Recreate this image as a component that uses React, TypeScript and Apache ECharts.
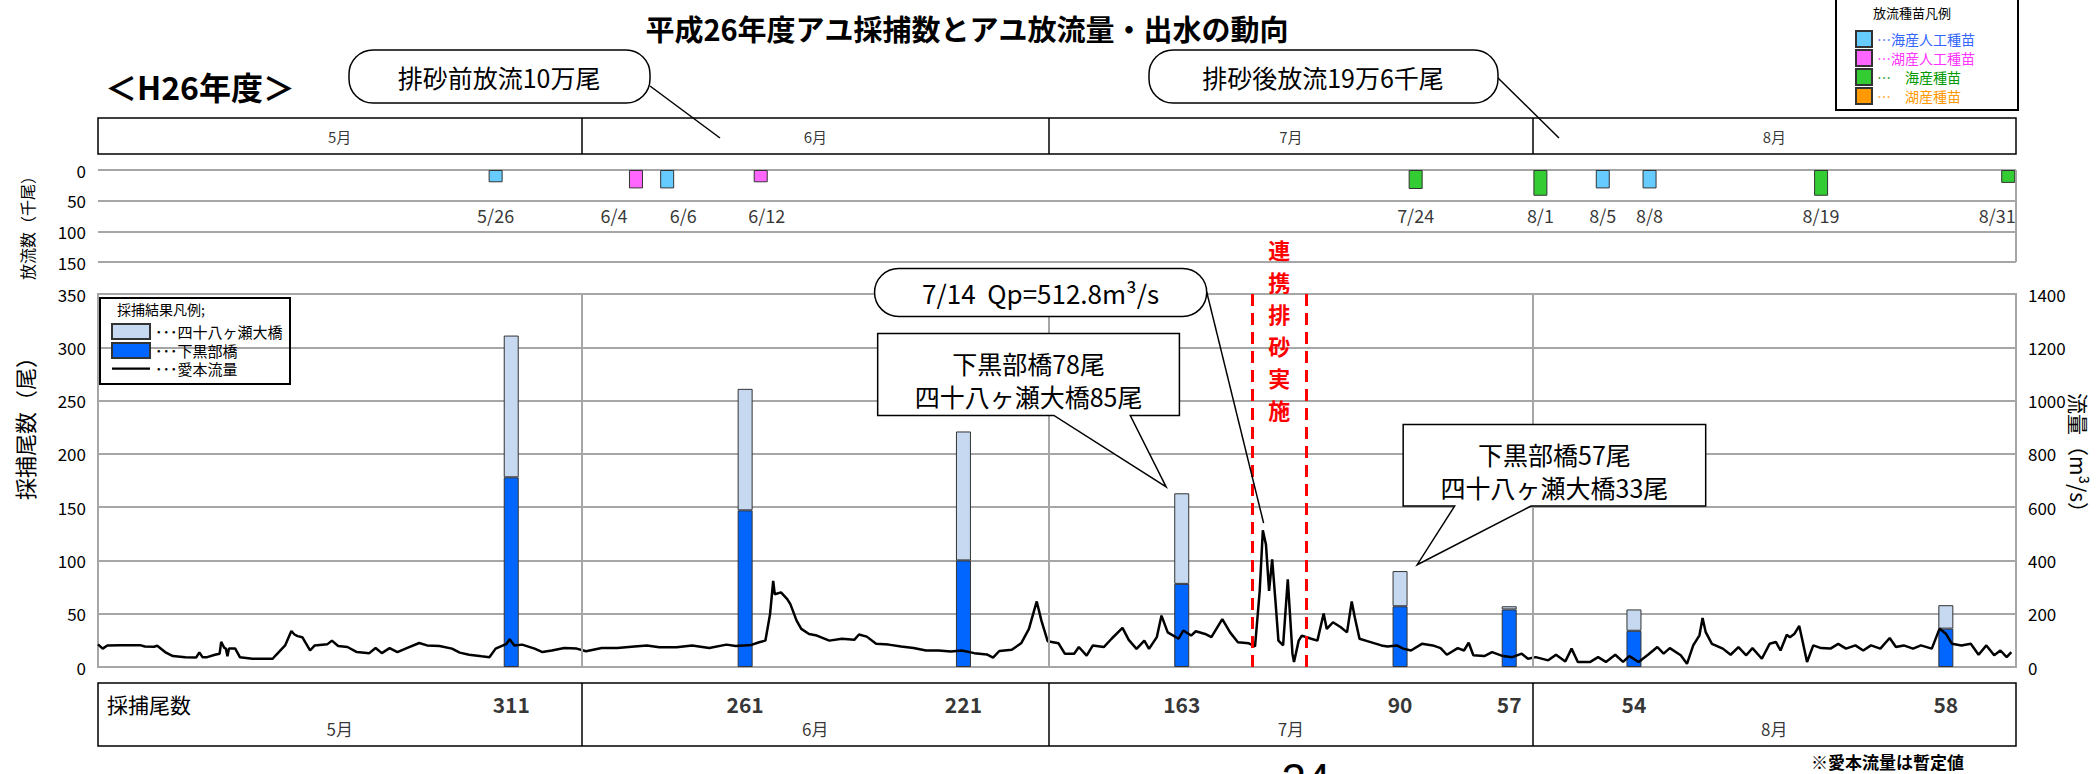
import React, { useEffect, useRef } from "react";
import * as echarts from "echarts";

// ---------------- data ----------------
const monthNames = ["5月", "6月", "7月", "8月"];
const monthNumbers = [5, 6, 7, 8];
const monthFirstDay: Record<string, number> = { "5": 0, "6": 31, "7": 61, "8": 92 };
const monthBounds = [0, 31, 61, 92, 123];

// catch survey (fish)
const catchDates = ["5/27", "6/11", "6/25", "7/9", "7/23", "7/30", "8/7", "8/27"];
const shimokurobeCatch = [178, 147, 100, 78, 57, 54, 34, 36];
const yasoseCatch = [133, 114, 121, 85, 33, 3, 20, 22];

// releases (thousand fish)
const releaseKinds = ["海産人工種苗", "湖産人工種苗", "海産種苗", "湖産種苗"];
const releaseDates = ["5/26", "6/4", "6/6", "6/12", "7/24", "8/1", "8/5", "8/8", "8/19", "8/31"];
const releaseKindOf = ["海産人工種苗", "湖産人工種苗", "海産人工種苗", "湖産人工種苗", "海産種苗", "海産種苗", "海産人工種苗", "海産人工種苗", "海産種苗", "海産種苗"];
const releaseThousands = [20, 30, 30, 20, 31, 42, 30, 30, 42, 21];

// Aimoto discharge (m3/s) as [day offset from May 1, value]
const flowMay = [
  [0, 85], [0.3, 69], [0.6, 81], [1.4, 82], [2.7, 82], [3.0, 77], [3.6, 76], [3.8, 80], [4.3, 56], [4.8, 41],
  [5.6, 37], [6.3, 36], [6.5, 55], [6.7, 37], [7.0, 37], [7.5, 46], [7.8, 50], [7.9, 94], [8.1, 72], [8.2, 69],
  [8.3, 40], [8.4, 69], [8.8, 69], [9.1, 37], [9.9, 31], [11.2, 31], [11.4, 44], [12.0, 81], [12.4, 135], [12.6, 122],
  [12.8, 116], [13.1, 112], [13.6, 62], [13.9, 81], [14.7, 85], [15.0, 99], [15.4, 79], [16.0, 75], [16.6, 56], [17.4, 52],
  [17.8, 71], [18.2, 52], [18.7, 71], [19.2, 56], [19.8, 71], [20.6, 90], [21.1, 81], [21.9, 79], [22.7, 69], [23.2, 54],
  [23.8, 46], [24.6, 40], [25.1, 37], [25.5, 69], [26.2, 87], [26.4, 104], [26.7, 81], [27.2, 84], [28.0, 69], [28.5, 56],
  [29.1, 62], [29.9, 71], [30.7, 69],
];
const flowJune = [
  [31.3, 59], [32.3, 71], [33.3, 71], [34.4, 77], [35.2, 81], [36.0, 74], [37.1, 74], [38.1, 81], [39.2, 71], [40.3, 84],
  [40.9, 79], [41.9, 83], [42.4, 93], [42.8, 99], [43.1, 199], [43.3, 323], [43.4, 273], [43.8, 280], [44.2, 255], [44.4, 236],
  [44.8, 174], [45.1, 143], [45.6, 124], [46.1, 118], [46.9, 99], [47.7, 106], [48.5, 102], [48.8, 122], [49.3, 114], [49.9, 87],
  [50.7, 84], [51.5, 77], [52.3, 71], [53.1, 62], [53.9, 62], [54.7, 58], [55.4, 62], [56.2, 52], [57.0, 47], [57.4, 35],
  [57.8, 60], [58.6, 65], [59.2, 89], [59.7, 143], [60.2, 246], [60.5, 174], [60.9, 97],
];
const flowJuly = [
  [61.6, 89], [62.0, 50], [62.6, 50], [62.9, 75], [63.4, 43], [63.8, 81], [64.5, 75], [65.0, 106], [65.7, 147], [66.1, 102],
  [66.6, 68], [67.1, 99], [67.4, 68], [67.9, 112], [68.2, 193], [68.6, 130], [69.3, 106], [69.6, 137], [70.1, 118], [70.4, 134],
  [71.0, 124], [71.4, 112], [72.1, 180], [72.6, 130], [73.1, 93], [73.8, 89], [74.2, 77], [74.5, 286], [74.7, 512.8], [74.9, 460],
  [75.1, 286], [75.3, 404], [75.5, 255], [75.7, 99], [76.0, 81], [76.3, 329], [76.6, 50], [76.7, 19], [77.0, 99], [77.2, 118],
  [77.8, 106], [78.2, 99], [78.6, 201], [78.8, 143], [79.2, 168], [79.7, 149], [80.1, 130], [80.4, 246], [80.6, 186], [80.9, 106],
  [81.4, 97], [82.3, 81], [82.7, 77], [83.3, 81], [83.7, 69], [84.2, 62], [84.9, 87], [85.6, 81], [86.1, 71], [86.5, 46],
  [87.2, 71], [87.6, 62], [87.9, 91], [88.2, 44], [88.9, 41], [89.4, 56], [90.1, 41], [90.7, 37], [91.3, 50], [91.7, 31],
];
const flowAugust = [
  [92.2, 37], [93.0, 25], [93.5, 46], [94.1, 21], [94.5, 69], [94.9, 19], [95.7, 19], [96.2, 37], [96.7, 19], [97.3, 46],
  [97.8, 19], [98.2, 41], [98.8, 19], [99.4, 46], [100.0, 75], [100.4, 50], [100.8, 71], [101.5, 44], [101.9, 12], [102.3, 81],
  [102.7, 119], [102.9, 184], [103.1, 131], [103.5, 87], [104.2, 69], [104.7, 46], [105.2, 75], [105.7, 44], [106.1, 71], [106.7, 31],
  [107.2, 87], [107.6, 94], [107.9, 62], [108.3, 121], [108.5, 112], [108.8, 125], [109.1, 154], [109.3, 100], [109.6, 19], [110.0, 81],
  [110.5, 71], [111.1, 69], [111.6, 87], [112.1, 69], [112.7, 81], [113.2, 62], [113.7, 81], [114.3, 69], [114.9, 109], [115.3, 75],
  [115.8, 81], [116.4, 69], [116.9, 81], [117.6, 69], [118.1, 144], [118.5, 125], [118.9, 87], [119.5, 81], [120.1, 87], [120.6, 46],
  [121.1, 81], [121.6, 44], [122.0, 62], [122.4, 37], [122.7, 56],
];

const sandFlushDays = [74, 77.5];
const peakText = "7/14  Qp=512.8m³/s";

// ---------------- styles ----------------
const NUM_FONT = "'Liberation Sans Narrow', 'Noto Sans CJK JP', sans-serif";
const JP_FONT = "'Noto Sans CJK JP', 'Noto Sans', sans-serif";
const releaseFill = ["#66CCFF", "#FF66FF", "#33CC33", "#FF9900"];
const releaseText = ["#3366FF", "#FF33FF", "#009900", "#FF9900"];
const releaseLabelNudge: Record<string, number> = { "6/4": -22, "6/6": 16, "6/12": 6, "8/31": -11 };
const GRAY = "#A6A6A6";
// legend icon: a thin horizontal line inside a 38x15 box
const LINE_ICON = "path://M0,0L0.01,0L0.01,0.01Z M0,15L0.01,15L0.01,14.99Z M38,0L37.99,0L37.99,0.01Z M0,6.5L38,6.5L38,8.7L0,8.7Z";

const dayOf = (md: string) => {
  const [m, d] = md.split("/");
  return monthFirstDay[m] + Number(d) - 0.5;
};

// one category per day of the season (5/1 .. 8/31)
const seasonDays: string[] = [];
monthNumbers.forEach((m, i) => {
  for (let d = 1; d <= monthBounds[i + 1] - monthBounds[i]; d++) seasonDays.push(`${m}/${d}`);
});

function buildOption(): any {
  const flow = [...flowMay, ...flowJune, ...flowJuly, ...flowAugust];
  const monthMid = monthNames.map((_, i) => (monthBounds[i] + monthBounds[i + 1]) / 2);
  const boundaryLines = (color: string, width: number) =>
    monthBounds.slice(1, 4).map((d) => ({ xAxis: d, lineStyle: { color, width, type: "solid" } }));
  const mk = (data: any[]) => ({ silent: true, symbol: ["none", "none"], label: { show: false }, animation: false, data });
  const hiddenLabelSym = { symbolSize: 1, itemStyle: { color: "rgba(0,0,0,0)" } };
  const numLabel = { color: "#000", fontSize: 17, fontFamily: NUM_FONT, margin: 12, formatter: (v: number) => String(v) };

  const releaseSeries = releaseKinds.map((kind, k) => ({
    type: "bar",
    name: kind,
    xAxisIndex: 1,
    yAxisIndex: 2,
    barWidth: 14,
    barGap: "-100%",
    itemStyle: { color: releaseFill[k], borderColor: "#333", borderWidth: 1 },
    data: releaseDates
      .map((d, i) => (releaseKindOf[i] === kind ? [dayOf(d), releaseThousands[i]] : null))
      .filter((v) => v !== null),
    markLine: k === 0 ? mk([{ xAxis: 123, lineStyle: { color: GRAY, width: 2, type: "solid" } }]) : undefined,
  }));

  return {
    animation: false,
    textStyle: { fontFamily: JP_FONT },
    grid: [
      { left: 98, right: 80, top: 294, height: 373, show: true, borderColor: GRAY, borderWidth: 2 },
      { left: 98, right: 80, top: 170, height: 92 },
      { left: 98, right: 80, top: 118, height: 36, show: true, borderColor: "#000", borderWidth: 1.5 },
      { left: 98, right: 80, top: 683, height: 63, show: true, borderColor: "#000", borderWidth: 1.5 },
    ],
    xAxis: [
      ...[0, 1, 2, 3].map((g) => ({ type: "value", gridIndex: g, min: 0, max: 123, show: false })),
      { type: "category", gridIndex: 0, data: seasonDays, boundaryGap: true, show: false },
    ],
    yAxis: [
      {
        type: "value", gridIndex: 0, min: 0, max: 350, interval: 50,
        axisLine: { show: false }, axisTick: { show: false }, axisLabel: numLabel,
        splitLine: { lineStyle: { color: GRAY, width: 2 } },
      },
      {
        type: "value", gridIndex: 0, position: "right", min: 0, max: 1400, interval: 200,
        axisLine: { show: false }, axisTick: { show: false }, axisLabel: numLabel,
        splitLine: { show: false },
      },
      {
        type: "value", gridIndex: 1, min: 0, max: 150, interval: 50, inverse: true,
        axisLine: { show: false }, axisTick: { show: false }, axisLabel: numLabel,
        splitLine: { lineStyle: { color: GRAY, width: 2 } },
      },
      { type: "value", gridIndex: 2, min: 0, max: 1, show: false },
      { type: "value", gridIndex: 3, min: 0, max: 1, show: false },
    ],
    legend: [
      {
        data: [
          { name: "四十八ヶ瀬大橋", icon: "rect" },
          { name: "下黒部橋", icon: "rect" },
          { name: "愛本流量", icon: LINE_ICON, itemStyle: { color: "#000", borderWidth: 0 } },
        ],
        orient: "vertical", left: 106, top: 318, itemWidth: 38, itemHeight: 15, itemGap: 2,
        selectedMode: false, formatter: "･･･{name}",
        textStyle: { fontSize: 15, color: "#000", fontFamily: JP_FONT },
      },
      {
        data: releaseKinds.map((k, i) => ({ name: k, icon: "rect", textStyle: { color: releaseText[i] } })),
        orient: "vertical", left: 1850, top: 25, itemWidth: 16, itemHeight: 16, itemGap: 1,
        selectedMode: false,
        formatter: (n: string) => (n.indexOf("人工") >= 0 ? "…" + n : "…　" + n),
        textStyle: { fontSize: 14, fontFamily: JP_FONT },
      },
    ],
    series: [
      {
        type: "bar", name: "下黒部橋", xAxisIndex: 4, yAxisIndex: 0, stack: "catch", barWidth: 15,
        itemStyle: { color: "#0066FF", borderColor: "#333", borderWidth: 1 },
        data: catchDates.map((d, i) => [d, shimokurobeCatch[i]]),
      },
      {
        type: "bar", name: "四十八ヶ瀬大橋", xAxisIndex: 4, yAxisIndex: 0, stack: "catch", barWidth: 15,
        itemStyle: { color: "#C6D9F1", borderColor: "#333", borderWidth: 1 },
        data: catchDates.map((d, i) => [d, yasoseCatch[i]]),
      },
      {
        type: "line", name: "愛本流量", xAxisIndex: 0, yAxisIndex: 1, symbol: "none",
        lineStyle: { color: "#000", width: 2.5 }, itemStyle: { color: "#000" },
        data: flow,
        markLine: mk([
          ...boundaryLines(GRAY, 2),
          ...sandFlushDays.map((d) => ({ xAxis: d, lineStyle: { color: "#FF0000", width: 3, type: [12, 7] } })),
        ]),
      },
      ...releaseSeries,
      {
        type: "scatter", name: "releaseDateLabels", xAxisIndex: 1, yAxisIndex: 2, ...hiddenLabelSym,
        data: releaseDates.map((d) => ({
          value: [dayOf(d), 73],
          label: { offset: [releaseLabelNudge[d] || 0, 0] },
        })),
        label: {
          show: true, position: "inside", color: "#000", fontSize: 18, fontFamily: NUM_FONT,
          formatter: (p: any) => releaseDates[p.dataIndex],
        },
      },
      {
        type: "scatter", name: "headerMonths", xAxisIndex: 2, yAxisIndex: 3, ...hiddenLabelSym,
        data: monthMid.map((m) => [m, 0.5]),
        label: { show: true, position: "inside", color: "#000", fontSize: 15, formatter: (p: any) => monthNames[p.dataIndex] },
        markLine: mk(boundaryLines("#000", 1.5)),
      },
      {
        type: "scatter", name: "tableMonths", xAxisIndex: 3, yAxisIndex: 4, ...hiddenLabelSym,
        data: monthMid.map((m) => [m, 0.27]),
        label: { show: true, position: "inside", color: "#000", fontSize: 17, formatter: (p: any) => monthNames[p.dataIndex] },
        markLine: mk(boundaryLines("#000", 1.5)),
      },
      {
        type: "scatter", name: "tableTotals", xAxisIndex: 3, yAxisIndex: 4, ...hiddenLabelSym,
        data: catchDates.map((d) => [dayOf(d), 0.67]),
        label: {
          show: true, position: "inside", color: "#000", fontSize: 21, fontWeight: "bold", fontFamily: NUM_FONT,
          formatter: (p: any) => String(shimokurobeCatch[p.dataIndex] + yasoseCatch[p.dataIndex]),
        },
      },
    ],
  };
}

function txt(x: number, y: number, text: string, s: any = {}, extra: any = {}) {
  const align = s.align || "center";
  const va = s.verticalAlign || "middle";
  return {
    type: "text", x, y, z: 100, ...extra,
    style: {
      text, fill: s.fill || "#000", fontSize: s.fontSize || 16, fontWeight: s.fontWeight || "normal",
      fontFamily: s.fontFamily || JP_FONT, align, textAlign: align, verticalAlign: va, textVerticalAlign: va,
    },
  };
}

function buildGraphics(chart: any) {
  const P = (d: number, v: number) => chart.convertToPixel({ xAxisIndex: 0, yAxisIndex: 0 }, [d, v]) as number[];
  const stroke = { fill: "#fff", stroke: "#000", lineWidth: 1.5 };
  const els: any[] = [];

  // titles
  els.push(txt(967, 28, "平成26年度アユ採捕数とアユ放流量・出水の動向", { fontSize: 29, fontWeight: "bold" }));
  els.push(txt(200, 86, "＜H26年度＞", { fontSize: 32, fontWeight: "bold" }));

  // top release callouts
  els.push({ type: "line", z: 99, shape: { x1: 650, y1: 86, x2: 720, y2: 138 }, style: { stroke: "#000", lineWidth: 1.5 } });
  els.push({ type: "rect", z: 99, shape: { x: 349, y: 50, width: 301, height: 53, r: 24 }, style: stroke });
  els.push(txt(499, 77, "排砂前放流10万尾", { fontSize: 25 }));
  els.push({ type: "line", z: 99, shape: { x1: 1497, y1: 77, x2: 1559, y2: 138 }, style: { stroke: "#000", lineWidth: 1.5 } });
  els.push({ type: "rect", z: 99, shape: { x: 1149, y: 50, width: 349, height: 53, r: 24 }, style: stroke });
  els.push(txt(1323, 77, "排砂後放流19万6千尾", { fontSize: 25 }));

  // release legend frame
  els.push({ type: "rect", z: 99, shape: { x: 1836, y: -2, width: 182, height: 112 }, style: { fill: "none", stroke: "#000", lineWidth: 2 } });
  els.push(txt(1912, 12, "放流種苗凡例", { fontSize: 13 }));

  // catch legend frame
  els.push({ type: "rect", z: 99, shape: { x: 100, y: 298, width: 190, height: 86 }, style: { fill: "none", stroke: "#000", lineWidth: 2 } });
  els.push(txt(117, 309, "採捕結果凡例;", { fontSize: 14, align: "left" }));

  // axis titles
  els.push(txt(27, 224, "放流数（千尾）", { fontSize: 16 }, { rotation: Math.PI / 2 }));
  els.push(txt(24, 423, "採捕尾数（尾）", { fontSize: 22 }, { rotation: Math.PI / 2 }));
  els.push(txt(2079, 458, "流量（m³/s）", { fontSize: 21 }, { rotation: -Math.PI / 2 }));

  // bottom table label & notes
  els.push(txt(107, 704, "採捕尾数", { fontSize: 21, align: "left" }));
  els.push(txt(1811, 761, "※愛本流量は暫定値", { fontSize: 17, fontWeight: "bold", align: "left" }));
  els.push(txt(1306, 757, "24", { fontSize: 44, fontFamily: "'Liberation Sans', sans-serif", verticalAlign: "top" }));

  // peak callout
  const a1 = P(49.8, 374), a2 = P(71.1, 329);
  const la = P(71.1, 352), lb = P(74.75, 135);
  els.push({ type: "line", z: 99, shape: { x1: la[0], y1: la[1], x2: lb[0], y2: lb[1] }, style: { stroke: "#000", lineWidth: 1.5 } });
  els.push({ type: "rect", z: 99, shape: { x: a1[0], y: a1[1], width: a2[0] - a1[0], height: a2[1] - a1[1], r: 24 }, style: stroke });
  els.push(txt((a1[0] + a2[0]) / 2, (a1[1] + a2[1]) / 2, peakText, { fontSize: 26, fontFamily: NUM_FONT }));

  // catch callouts
  const callout = (x0: number, x1: number, yTop: number, yBot: number, b0: number, b1: number, tip: number[], idx: number) => {
    const pts = [P(x0, yTop), P(x1, yTop), P(x1, yBot), P(b1, yBot), P(tip[0], tip[1]), P(b0, yBot), P(x0, yBot)];
    els.push({ type: "polygon", z: 99, shape: { points: pts }, style: stroke });
    const cx = (x0 + x1) / 2;
    const h = yTop - yBot;
    const t1 = P(cx, yTop - h * 0.36), t2 = P(cx, yTop - h * 0.76);
    els.push(txt(t1[0], t1[1], `下黒部橋${shimokurobeCatch[idx]}尾`, { fontSize: 25 }));
    els.push(txt(t2[0], t2[1], `四十八ヶ瀬大橋${yasoseCatch[idx]}尾`, { fontSize: 25 }));
  };
  callout(50, 69.35, 313, 236, 61.3, 66.2, [68.5, 169], 3);
  callout(83.7, 103.1, 227.5, 151, 87.0, 91.9, [84.6, 96], 4);

  // sand-flushing label, one glyph per line
  const fx = P((sandFlushDays[0] + sandFlushDays[1]) / 2, 0)[0];
  "連携排砂実施".split("").forEach((ch, i) => {
    els.push(txt(fx, 249 + i * 32, ch, { fontSize: 22, fontWeight: "bold", fill: "#FF0000" }));
  });

  return els;
}

export default function App() {
  const ref = useRef<HTMLDivElement>(null);
  useEffect(() => {
    const chart = echarts.init(ref.current!, undefined, { renderer: "svg" });
    chart.setOption(buildOption());
    chart.setOption({ graphic: { elements: buildGraphics(chart) } });
    return () => chart.dispose();
  }, []);
  return <div ref={ref} style={{ position: "absolute", left: 0, top: 0, width: 2096, height: 774, background: "#fff" }} />;
}
